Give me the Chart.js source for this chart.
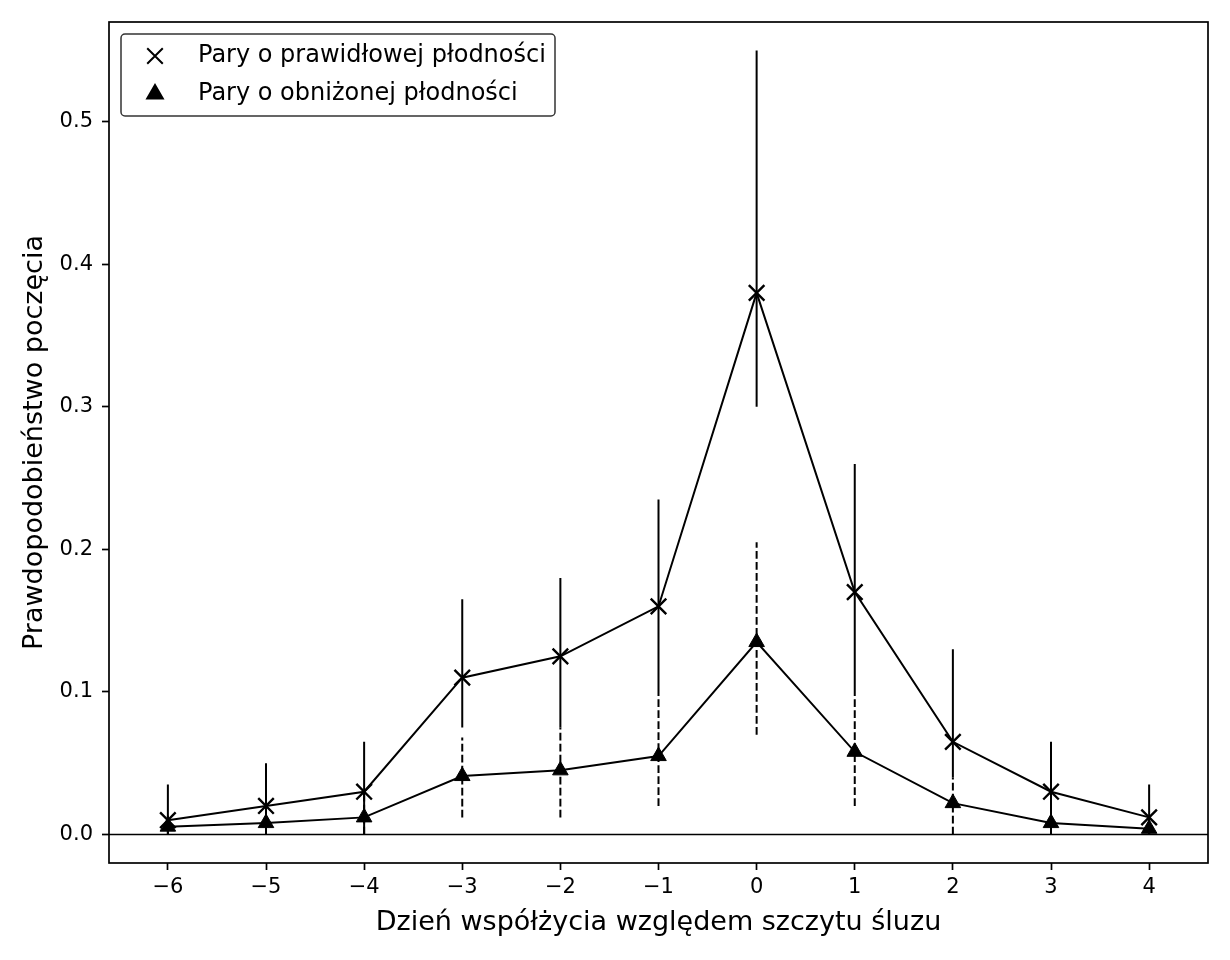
<!DOCTYPE html>
<html>
<head>
<meta charset="utf-8">
<script src="https://cdn.jsdelivr.net/npm/chart.js@4"></script>
<style>
    html, body { margin: 0; padding: 0; background: #fff; }
    #wrap { width: 1230px; height: 960px; }
</style>
</head>
<body>
<div id="wrap"><canvas id="fert_chart" width="1230" height="960"></canvas></div>
<script>
// Data
    const days = [-6, -5, -4, -3, -2, -1, 0, 1, 2, 3, 4];
    const normalP = [0.01, 0.02, 0.03, 0.11, 0.125, 0.16, 0.38, 0.17, 0.065, 0.03, 0.012];
    const normalLow = [0, 0, 0, 0.075, 0.075, 0.1, 0.30, 0.1, 0.04, 0, 0];
    const normalHigh = [0.035, 0.05, 0.065, 0.165, 0.18, 0.235, 0.55, 0.26, 0.13, 0.065, 0.035];
    const impairedP = [0.0055, 0.008, 0.012, 0.041, 0.045, 0.055, 0.135, 0.058, 0.022, 0.008, 0.004];
    const impairedLow = [0, 0, 0, 0.012, 0.012, 0.02, 0.07, 0.02, 0, 0, 0];
    const impairedHigh = [0.015, 0.02, 0.03, 0.068, 0.075, 0.1, 0.205, 0.1, 0.04, 0.02, 0.012];
    const xTicks = [-6, -5, -4, -3, -2, -1, 0, 1, 2, 3, 4];
    const yTicks = [0, 0.1, 0.2, 0.3, 0.4, 0.5];
    const labelNormal = 'Pary o prawidłowej płodności';
    const labelImpaired = 'Pary o obniżonej płodności';

    const FONT = 'DejaVu Sans';

    // error bars as one broken line per series
    const errorLine = (low, high) =>
    {
        let pts = [];
        days.forEach((d, i) =>
        {
            pts.push({x: d, y: low[i]});
            pts.push({x: d, y: high[i]});
            pts.push({x: d, y: null});
        });
        return pts;
    };
    const points = (vals) => days.map((d, i) => ({x: d, y: vals[i]}));

// Plugin: frame, zero line, legend
    const framePlugin =
    {
        id: 'frame'
        ,beforeDatasetsDraw: (chart) =>
        {
            const {ctx, chartArea: a, scales} = chart;
            const y0 = scales.y.getPixelForValue(0);
            ctx.save();
            ctx.strokeStyle = '#000';
            ctx.lineWidth = 1.5;
            ctx.beginPath();
            ctx.moveTo(a.left, y0);
            ctx.lineTo(a.right, y0);
            ctx.stroke();
            ctx.restore();
        }
        ,afterDraw: (chart) =>
        {
            const {ctx, chartArea: a} = chart;
            ctx.save();
            ctx.strokeStyle = '#000';
            ctx.lineWidth = 1.7;
            ctx.strokeRect(a.left, a.top, a.right - a.left, a.bottom - a.top);

            // legend
            const bx = a.left + 12, by = a.top + 12, bw = 434, bh = 82;
            ctx.beginPath();
            ctx.roundRect(bx, by, bw, bh, 4);
            ctx.fillStyle = 'rgba(255,255,255,0.8)';
            ctx.fill();
            ctx.strokeStyle = '#333';
            ctx.lineWidth = 1.5;
            ctx.stroke();

            ctx.fillStyle = '#000';
            ctx.strokeStyle = '#000';
            ctx.lineWidth = 2;
            const rows = [
                {label: labelNormal, style: 'crossRot', r: 11, y: by + 22}
                ,{label: labelImpaired, style: 'triangle', r: 9, y: by + 60}
            ];
            rows.forEach((row) =>
            {
                Chart.helpers.drawPoint(ctx, {pointStyle: row.style, radius: row.r, borderWidth: 2}, bx + 34, row.y);
                ctx.font = '24px "' + FONT + '"';
                ctx.textBaseline = 'middle';
                ctx.textAlign = 'left';
                ctx.fillText(row.label, bx + 77, row.y);
            });
            ctx.restore();
        }
    };

// Chart
    const createChart = () =>
    {
        const ctx = document.getElementById('fert_chart');

        new Chart(ctx,
        {
            type: 'line'
            ,data: {
                datasets:
                [
                    {
                        label: labelImpaired
                        ,data: points(impairedP)
                        ,borderColor: '#000'
                        ,backgroundColor: '#000'
                        ,borderWidth: 2
                        ,pointStyle: 'triangle'
                        ,pointRadius: 9
                        ,pointBorderWidth: 1
                        ,tension: 0
                    }
                    ,{
                        label: labelNormal
                        ,data: points(normalP)
                        ,borderColor: '#000'
                        ,backgroundColor: '#000'
                        ,borderWidth: 2
                        ,pointStyle: 'crossRot'
                        ,pointRadius: 11
                        ,pointBorderWidth: 2.4
                        ,tension: 0
                    }
                    ,{
                        label: 'err_impaired'
                        ,data: errorLine(impairedLow, impairedHigh)
                        ,borderColor: '#000'
                        ,borderWidth: 2
                        ,borderDash: [7.7, 3.3]
                        ,pointRadius: 0
                        ,spanGaps: false
                    }
                    ,{
                        label: 'err_normal'
                        ,data: errorLine(normalLow, normalHigh)
                        ,borderColor: '#000'
                        ,borderWidth: 2
                        ,pointRadius: 0
                        ,spanGaps: false
                    }
                ]
            }
            ,options:
            {
                responsive: false
                ,animation: false
                ,layout: {padding: {top: 22, right: 22, left: 0, bottom: 0}}
                ,plugins: {legend: {display: false}, tooltip: {enabled: false}}
                ,scales:
                {
                    x: {
                        type: 'linear'
                        ,min: -6.6
                        ,max: 4.6
                        ,afterBuildTicks: (s) => { s.ticks = xTicks.map((v) => ({value: v})); }
                        ,afterFit: (s) => { s.height = 97; }
                        ,grid: {drawOnChartArea: false, drawTicks: true, tickLength: 7, tickColor: '#000', tickWidth: 1.7}
                        ,border: {display: false}
                        ,ticks: {
                            color: '#000'
                            ,padding: 5
                            ,maxRotation: 0
                            ,font: {family: FONT, size: 21}
                            ,callback: (v) => String(v).replace('-', '\u2212')
                        }
                        ,title: {
                            display: true
                            ,text: 'Dzień współżycia względem szczytu śluzu'
                            ,color: '#000'
                            ,font: {family: FONT, size: 27}
                            ,padding: {top: 0, bottom: 21}
                        }
                    }
                    ,y: {
                        type: 'linear'
                        ,min: -0.02
                        ,max: 0.57
                        ,afterBuildTicks: (s) => { s.ticks = yTicks.map((v) => ({value: v})); }
                        ,afterFit: (s) => { s.width = 109; }
                        ,grid: {drawOnChartArea: false, drawTicks: true, tickLength: 7, tickColor: '#000', tickWidth: 1.7}
                        ,border: {display: false}
                        ,ticks: {
                            color: '#000'
                            ,padding: 9
                            ,font: {family: FONT, size: 21}
                            ,callback: (v) => v.toFixed(1)
                        }
                        ,title: {
                            display: true
                            ,text: 'Prawdopodobieństwo poczęcia'
                            ,color: '#000'
                            ,font: {family: FONT, size: 27}
                            ,padding: {top: 19, bottom: 0}
                        }
                    }
                }
            }
            ,plugins: [framePlugin]
        });
    };
    createChart();
</script>
</body>
</html>
